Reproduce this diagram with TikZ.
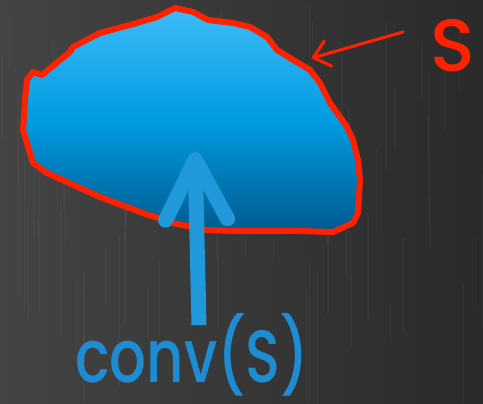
\documentclass[tikz,border=0pt]{standalone}
\usepackage{fontspec}
\setmainfont{Poppins}[UprightFont=* Medium]
\usetikzlibrary{arrows.meta}
\definecolor{bgleft}{HTML}{444444}
\definecolor{bgright}{HTML}{2A2A2A}
\definecolor{setred}{HTML}{FF2200}
\definecolor{blobtop}{HTML}{3DBBF7}
\definecolor{blobmid}{HTML}{009CE2}
\definecolor{blobbot}{HTML}{005A8E}
\definecolor{hullblue}{HTML}{2098DA}
\definecolor{labelblue}{HTML}{1E8CD3}
\tikzset{
  label text/.style={font=\fontsize{74}{74}\selectfont, inner sep=0pt},
  set outline/.style={draw=setred, line width=6pt, line join=round},
  pointer/.style={setred, line width=3pt, line cap=round,
    -{Straight Barb[length=15pt, width=26pt, line width=3pt, round]}},
  hull arrow/.style={hullblue, line width=15pt,
    -{Straight Barb[length=60pt, width=62pt, line width=15pt, round]}},
}
\begin{document}
\begin{tikzpicture}[x=1pt, y=-1pt]
  % chalkboard background
  \shade[left color=bgleft, right color=bgright] (0,0) rectangle (483,404);
  \useasboundingbox (0,0) rectangle (483,404);
  % faint vertical streaks of the board
  \pgfmathsetseed{7}
  \foreach \i in {1,...,70}{
    \pgfmathsetmacro{\sx}{rnd*483}
    \pgfmathsetmacro{\sy}{rnd*300}
    \pgfmathsetmacro{\sl}{40+rnd*120}
    \draw[white, opacity=0.03, line width=1.5pt] (\sx,\sy) -- (\sx,\sy+\sl);
  }
  % the set S
  \path[set outline, top color=blobtop, bottom color=blobbot, middle color=blobmid]
    (33,72) -- (42,75) -- (70,52) -- (73,47) -- (100,33) -- (130,25)
    -- (157,17) -- (175,8) -- (193,12) -- (208,20) -- (233,23) -- (250,27)
    -- (267,37) -- (277,50) -- (290,58) -- (310,70) -- (320,83) -- (330,103)
    -- (347,127) -- (353,140) -- (358,160) -- (360,180) -- (358,213)
    -- (353,223) -- (333,232) -- (300,231) -- (233,231) -- (207,230)
    -- (173,223) -- (143,213) -- (100,197) -- (47,173) -- (33,163)
    -- (27,143) -- (23,130) -- (25,100) -- (27,80) -- cycle;
  % labels
  \node[label text, text=setred, anchor=base] (S) at (453,72) {S};
  \node[label text, text=labelblue, anchor=south, xscale=0.78] (conv) at (192,396) {conv(S)};
  % pointers
  \coordinate (edge) at (312,58);
  \coordinate (inside) at (195,152);
  \coordinate (S tail) at (403,32);
  \coordinate (conv tail) at (199,325);
  \draw[pointer] (S tail) -- (edge);
  \draw[hull arrow] (conv tail) -- (inside);
\end{tikzpicture}
\end{document}
